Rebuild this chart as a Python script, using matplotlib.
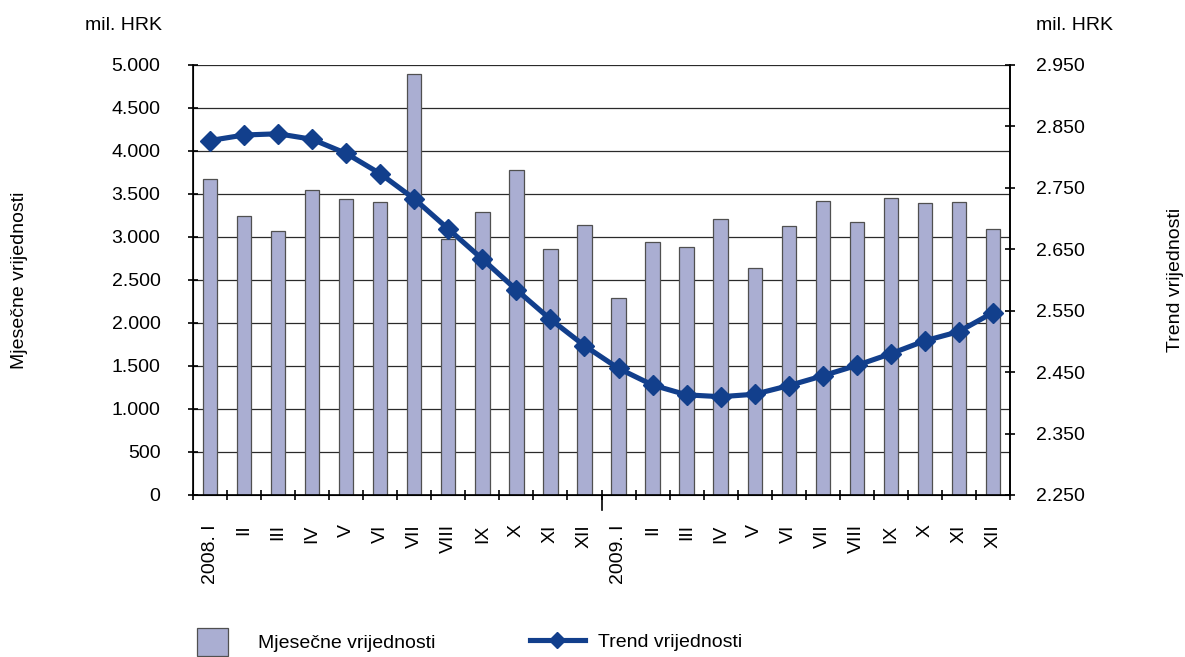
import matplotlib.pyplot as plt
from matplotlib.ticker import FuncFormatter, FixedLocator
from matplotlib.lines import Line2D
from matplotlib.patches import Patch

# mjesecne vrijednosti (mil. HRK), 2008. I - 2009. XII
months = ['2008. I', 'II', 'III', 'IV', 'V', 'VI', 'VII', 'VIII', 'IX', 'X', 'XI', 'XII',
          '2009. I', 'II', 'III', 'IV', 'V', 'VI', 'VII', 'VIII', 'IX', 'X', 'XI', 'XII']
monthly = [3674, 3244, 3066, 3543, 3446, 3403, 4892, 2977, 3291, 3775, 2860, 3136,
           2294, 2938, 2884, 3213, 2643, 3132, 3415, 3178, 3457, 3392, 3403, 3097]
trend = [2827, 2836, 2838, 2829, 2806, 2773, 2732, 2683, 2634, 2584, 2536, 2493,
         2456, 2429, 2413, 2410, 2414, 2428, 2444, 2461, 2480, 2501, 2516, 2547]

BAR_COLOR = '#aaaed2'
BAR_EDGE = '#505050'
LINE_COLOR = '#123f8c'

plt.rcParams['font.family'] = ['Liberation Sans', 'DejaVu Sans']


def thousands(v, pos):
    return f"{int(round(v)):,}".replace(',', '.')


fig = plt.figure(figsize=(11.85, 6.57), dpi=100)
ax = fig.add_axes([0.1629, 0.2466, 0.6894, 0.6545])
x = list(range(len(months)))

ax.bar(x, monthly, width=0.42, color=BAR_COLOR, edgecolor=BAR_EDGE, linewidth=0.9, zorder=2)
ax.set_ylim(0, 5000)
ax.set_xlim(-0.5, len(months) - 0.5)
ax.set_yticks(range(0, 5001, 500))
ax.yaxis.set_major_formatter(FuncFormatter(thousands))
ax.grid(axis='y', color='#2a2a2a', linewidth=0.9, zorder=0)
ax.set_axisbelow(True)

ax.set_xticks(x)
ax.set_xticklabels(months, rotation=90, va='top', ha='center', fontsize=14)
ax.xaxis.set_minor_locator(FixedLocator([i - 0.5 for i in range(len(months) + 1)]))
ax.tick_params(axis='x', which='major', length=0, pad=21)
ax.tick_params(axis='x', which='minor', length=7, direction='inout', width=1.2)
ax.tick_params(axis='y', length=7, direction='inout', width=1.2, labelsize=14, pad=20)
# longer tick marking the year boundary
ax.axvline(11.5, ymin=-0.035, ymax=0, color='black', linewidth=1.2, clip_on=False)

ax.spines['top'].set_visible(False)
for s in ['left', 'bottom', 'right']:
    ax.spines[s].set_linewidth(1.2)

ax2 = ax.twinx()
ax2.plot(x, trend, color=LINE_COLOR, linewidth=3.7, marker='D', markersize=10, zorder=3)
ax2.set_ylim(2250, 2950)
ax2.set_yticks(range(2250, 2951, 100))
ax2.yaxis.set_major_formatter(FuncFormatter(thousands))
ax2.tick_params(axis='y', length=7, direction='inout', width=1.2, labelsize=14, pad=15)
ax2.spines['top'].set_visible(False)
ax2.spines['right'].set_linewidth(1.2)

fig.text(124 / 1185, 1 - 26 / 657, 'mil. HRK', fontsize=14, ha='center', va='center')
fig.text(1075 / 1185, 1 - 26 / 657, 'mil. HRK', fontsize=14, ha='center', va='center')
fig.text(20 / 1185, 1 - 280 / 657, 'Mjesečne vrijednosti', fontsize=14, rotation=90,
         ha='center', va='center')
fig.text(1175 / 1185, 1 - 280 / 657, 'Trend vrijednosti', fontsize=14, rotation=90,
         ha='center', va='center')

# two separate legends, so each key can have its own length
fig.legend([Patch(facecolor=BAR_COLOR, edgecolor=BAR_EDGE, linewidth=0.9)],
           ['Mjesečne vrijednosti'], frameon=False, fontsize=14,
           loc='center left', bbox_to_anchor=(187 / 1185, 1 - 642 / 657),
           borderpad=0, handlelength=1.6, handleheight=1.9, handletextpad=1.55)
fig.legend([Line2D([], [], color=LINE_COLOR, linewidth=3.7, marker='D', markersize=8)],
           ['Trend vrijednosti'], frameon=False, fontsize=14,
           loc='center left', bbox_to_anchor=(520 / 1185, 1 - 642 / 657),
           borderpad=0, handlelength=2.85, handletextpad=0.65)

fig.savefig('out.png', dpi=100)
